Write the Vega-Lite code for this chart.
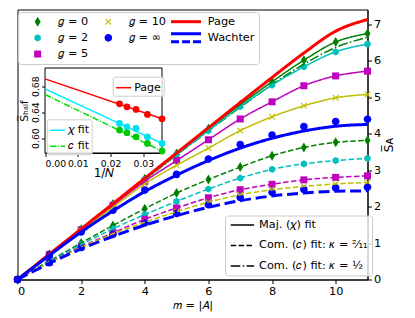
{
"$schema": "https://vega.github.io/schema/vega-lite/v6.json",
"autosize": {"type": "none"},
"padding": {"left": 17.5, "top": 9.5, "right": 47.5, "bottom": 38.5},
"width": 350,
"height": 270,
"config": {
  "font": "DejaVu Sans",
  "view": {"stroke": "black", "fill": "white", "strokeWidth": 1},
  "axis": {"grid": false, "domainColor": "black", "tickColor": "black", "labelColor": "black", "titleColor": "black", "labelFont": "DejaVu Sans", "titleFont": "DejaVu Sans", "titleFontWeight": "normal", "domainWidth": 1, "tickWidth": 1, "labelOverlap": false},
  "legend": {"labelFont": "DejaVu Sans", "labelColor": "black"}
},
"datasets": {
  "d": [
    {"s":"0","f":"maj","m":0,"S":0},{"s":"0","f":"maj","m":1,"S":0.69},{"s":"0","f":"maj","m":2,"S":1.38},{"s":"0","f":"maj","m":3,"S":2.07},{"s":"0","f":"maj","m":4,"S":2.76},{"s":"0","f":"maj","m":5,"S":3.45},{"s":"0","f":"maj","m":6,"S":4.13},{"s":"0","f":"maj","m":7,"S":4.79},{"s":"0","f":"maj","m":8,"S":5.42},{"s":"0","f":"maj","m":9,"S":6.01},{"s":"0","f":"maj","m":10,"S":6.51},{"s":"0","f":"maj","m":11,"S":6.74},
    {"s":"0","f":"k2","m":0,"S":0},{"s":"0","f":"k2","m":1,"S":0.51},{"s":"0","f":"k2","m":2,"S":1.0},{"s":"0","f":"k2","m":3,"S":1.48},{"s":"0","f":"k2","m":4,"S":1.94},{"s":"0","f":"k2","m":5,"S":2.37},{"s":"0","f":"k2","m":6,"S":2.74},{"s":"0","f":"k2","m":7,"S":3.08},{"s":"0","f":"k2","m":8,"S":3.39},{"s":"0","f":"k2","m":9,"S":3.62},{"s":"0","f":"k2","m":10,"S":3.76},{"s":"0","f":"k2","m":11,"S":3.81},
    {"s":"0","f":"k1","m":0,"S":0},{"s":"0","f":"k1","m":1,"S":0.69},{"s":"0","f":"k1","m":2,"S":1.37},{"s":"0","f":"k1","m":3,"S":2.05},{"s":"0","f":"k1","m":4,"S":2.73},{"s":"0","f":"k1","m":5,"S":3.41},{"s":"0","f":"k1","m":6,"S":4.07},{"s":"0","f":"k1","m":7,"S":4.72},{"s":"0","f":"k1","m":8,"S":5.34},{"s":"0","f":"k1","m":9,"S":5.9},{"s":"0","f":"k1","m":10,"S":6.36},{"s":"0","f":"k1","m":11,"S":6.64},
    {"s":"2","f":"maj","m":0,"S":0},{"s":"2","f":"maj","m":1,"S":0.69},{"s":"2","f":"maj","m":2,"S":1.38},{"s":"2","f":"maj","m":3,"S":2.06},{"s":"2","f":"maj","m":4,"S":2.74},{"s":"2","f":"maj","m":5,"S":3.42},{"s":"2","f":"maj","m":6,"S":4.08},{"s":"2","f":"maj","m":7,"S":4.74},{"s":"2","f":"maj","m":8,"S":5.33},{"s":"2","f":"maj","m":9,"S":5.83},{"s":"2","f":"maj","m":10,"S":6.24},{"s":"2","f":"maj","m":11,"S":6.45},
    {"s":"2","f":"k2","m":0,"S":0},{"s":"2","f":"k2","m":1,"S":0.49},{"s":"2","f":"k2","m":2,"S":0.96},{"s":"2","f":"k2","m":3,"S":1.39},{"s":"2","f":"k2","m":4,"S":1.78},{"s":"2","f":"k2","m":5,"S":2.14},{"s":"2","f":"k2","m":6,"S":2.48},{"s":"2","f":"k2","m":7,"S":2.78},{"s":"2","f":"k2","m":8,"S":3.02},{"s":"2","f":"k2","m":9,"S":3.17},{"s":"2","f":"k2","m":10,"S":3.26},{"s":"2","f":"k2","m":11,"S":3.32},
    {"s":"5","f":"maj","m":0,"S":0},{"s":"5","f":"maj","m":1,"S":0.69},{"s":"5","f":"maj","m":2,"S":1.36},{"s":"5","f":"maj","m":3,"S":2.03},{"s":"5","f":"maj","m":4,"S":2.69},{"s":"5","f":"maj","m":5,"S":3.26},{"s":"5","f":"maj","m":6,"S":3.83},{"s":"5","f":"maj","m":7,"S":4.4},{"s":"5","f":"maj","m":8,"S":4.87},{"s":"5","f":"maj","m":9,"S":5.31},{"s":"5","f":"maj","m":10,"S":5.58},{"s":"5","f":"maj","m":11,"S":5.71},
    {"s":"5","f":"k2","m":0,"S":0},{"s":"5","f":"k2","m":1,"S":0.47},{"s":"5","f":"k2","m":2,"S":0.9},{"s":"5","f":"k2","m":3,"S":1.28},{"s":"5","f":"k2","m":4,"S":1.65},{"s":"5","f":"k2","m":5,"S":1.96},{"s":"5","f":"k2","m":6,"S":2.24},{"s":"5","f":"k2","m":7,"S":2.46},{"s":"5","f":"k2","m":8,"S":2.61},{"s":"5","f":"k2","m":9,"S":2.73},{"s":"5","f":"k2","m":10,"S":2.8},{"s":"5","f":"k2","m":11,"S":2.84},
    {"s":"10","f":"maj","m":0,"S":0},{"s":"10","f":"maj","m":1,"S":0.68},{"s":"10","f":"maj","m":2,"S":1.34},{"s":"10","f":"maj","m":3,"S":1.98},{"s":"10","f":"maj","m":4,"S":2.62},{"s":"10","f":"maj","m":5,"S":3.13},{"s":"10","f":"maj","m":6,"S":3.6},{"s":"10","f":"maj","m":7,"S":4.08},{"s":"10","f":"maj","m":8,"S":4.46},{"s":"10","f":"maj","m":9,"S":4.76},{"s":"10","f":"maj","m":10,"S":4.98},{"s":"10","f":"maj","m":11,"S":5.07},
    {"s":"10","f":"k2","m":0,"S":0},{"s":"10","f":"k2","m":1,"S":0.46},{"s":"10","f":"k2","m":2,"S":0.88},{"s":"10","f":"k2","m":3,"S":1.25},{"s":"10","f":"k2","m":4,"S":1.57},{"s":"10","f":"k2","m":5,"S":1.86},{"s":"10","f":"k2","m":6,"S":2.12},{"s":"10","f":"k2","m":7,"S":2.32},{"s":"10","f":"k2","m":8,"S":2.46},{"s":"10","f":"k2","m":9,"S":2.55},{"s":"10","f":"k2","m":10,"S":2.62},{"s":"10","f":"k2","m":11,"S":2.66},
    {"s":"∞","f":"maj","m":0,"S":0},{"s":"∞","f":"maj","m":1,"S":0.66},{"s":"∞","f":"maj","m":2,"S":1.3},{"s":"∞","f":"maj","m":3,"S":1.9},{"s":"∞","f":"maj","m":4,"S":2.45},{"s":"∞","f":"maj","m":5,"S":2.88},{"s":"∞","f":"maj","m":6,"S":3.3},{"s":"∞","f":"maj","m":7,"S":3.7},{"s":"∞","f":"maj","m":8,"S":3.96},{"s":"∞","f":"maj","m":9,"S":4.19},{"s":"∞","f":"maj","m":10,"S":4.33},{"s":"∞","f":"maj","m":11,"S":4.39},
    {"s":"∞","f":"k2","m":0,"S":0},{"s":"∞","f":"k2","m":1,"S":0.46},{"s":"∞","f":"k2","m":2,"S":0.88},{"s":"∞","f":"k2","m":3,"S":1.24},{"s":"∞","f":"k2","m":4,"S":1.55},{"s":"∞","f":"k2","m":5,"S":1.81},{"s":"∞","f":"k2","m":6,"S":2.05},{"s":"∞","f":"k2","m":7,"S":2.25},{"s":"∞","f":"k2","m":8,"S":2.39},{"s":"∞","f":"k2","m":9,"S":2.47},{"s":"∞","f":"k2","m":10,"S":2.51},{"s":"∞","f":"k2","m":11,"S":2.53},
    {"s":"Page","f":"maj","m":0,"S":0},{"s":"Page","f":"maj","m":1,"S":0.693},{"s":"Page","f":"maj","m":2,"S":1.386},{"s":"Page","f":"maj","m":3,"S":2.079},{"s":"Page","f":"maj","m":4,"S":2.773},{"s":"Page","f":"maj","m":5,"S":3.466},{"s":"Page","f":"maj","m":6,"S":4.159},{"s":"Page","f":"maj","m":7,"S":4.85},{"s":"Page","f":"maj","m":8,"S":5.537},{"s":"Page","f":"maj","m":9,"S":6.207},{"s":"Page","f":"maj","m":10,"S":6.806},{"s":"Page","f":"maj","m":11,"S":7.125},
    {"s":"Wachter","f":"maj","m":0,"S":0},{"s":"Wachter","f":"maj","m":1,"S":0.66},{"s":"Wachter","f":"maj","m":2,"S":1.3},{"s":"Wachter","f":"maj","m":3,"S":1.88},{"s":"Wachter","f":"maj","m":4,"S":2.41},{"s":"Wachter","f":"maj","m":5,"S":2.86},{"s":"Wachter","f":"maj","m":6,"S":3.26},{"s":"Wachter","f":"maj","m":7,"S":3.6},{"s":"Wachter","f":"maj","m":8,"S":3.87},{"s":"Wachter","f":"maj","m":9,"S":4.07},{"s":"Wachter","f":"maj","m":10,"S":4.2},{"s":"Wachter","f":"maj","m":11,"S":4.25},
    {"s":"Wachter","f":"thick","m":0,"S":0},{"s":"Wachter","f":"thick","m":1,"S":0.44},{"s":"Wachter","f":"thick","m":2,"S":0.84},{"s":"Wachter","f":"thick","m":3,"S":1.18},{"s":"Wachter","f":"thick","m":4,"S":1.49},{"s":"Wachter","f":"thick","m":5,"S":1.75},{"s":"Wachter","f":"thick","m":6,"S":1.98},{"s":"Wachter","f":"thick","m":7,"S":2.16},{"s":"Wachter","f":"thick","m":8,"S":2.29},{"s":"Wachter","f":"thick","m":9,"S":2.37},{"s":"Wachter","f":"thick","m":10,"S":2.42},{"s":"Wachter","f":"thick","m":11,"S":2.43}
  ],
  "ins": [
    {"s":"Page","k":"pt","x":0.02273,"y":0.6528},{"s":"Page","k":"pt","x":0.025,"y":0.6482},{"s":"Page","k":"pt","x":0.02778,"y":0.6442},{"s":"Page","k":"pt","x":0.03125,"y":0.6365},{"s":"Page","k":"pt","x":0.03571,"y":0.6297},
    {"s":"Page","k":"ln","x":0,"y":0.6912},{"s":"Page","k":"ln","x":0.03571,"y":0.6297},
    {"s":"chi","k":"pt","x":0.02273,"y":0.6226},{"s":"chi","k":"pt","x":0.025,"y":0.6174},{"s":"chi","k":"pt","x":0.02778,"y":0.6149},{"s":"chi","k":"pt","x":0.03125,"y":0.602},{"s":"chi","k":"pt","x":0.03571,"y":0.5918},
    {"s":"chi","k":"ln","x":0,"y":0.6758},{"s":"chi","k":"ln","x":0.03571,"y":0.5918},
    {"s":"c","k":"pt","x":0.02273,"y":0.6123},{"s":"c","k":"pt","x":0.025,"y":0.6082},{"s":"c","k":"pt","x":0.02778,"y":0.602},{"s":"c","k":"pt","x":0.03125,"y":0.5918},{"s":"c","k":"pt","x":0.03571,"y":0.58},
    {"s":"c","k":"ln","x":0,"y":0.6672},{"s":"c","k":"ln","x":0.03571,"y":0.58}
  ]
},
"layer": [
  {
    "layer": [
      {
        "data": {"name": "d"},
        "transform": [{"filter": "(datum.f === 'maj' || datum.f === 'k2') && datum.s !== 'Page' && datum.s !== 'Wachter'"}],
        "mark": {"type": "point", "filled": true, "size": 64, "opacity": 1},
        "encoding": {
          "x": {"field": "m", "type": "quantitative", "scale": {"domain": [0, 11], "nice": false},
                "axis": {"values": [0, 2, 4, 6, 8, 10], "tickCount": 6, "labelOverlap": false, "title": "𝑚 = |𝐴|", "labelFontSize": 11.3, "titleFontSize": 11.3, "tickSize": 4, "labelPadding": 2, "titlePadding": 3}},
          "y": {"field": "S", "type": "quantitative", "scale": {"domain": [0, 7.4], "nice": false},
                "axis": {"orient": "right", "values": [0, 1, 2, 3, 4, 5, 6, 7], "tickCount": 8, "labelOverlap": false, "title": "S̅ᴀ", "titleAngle": 270, "titleBaseline": "top", "labelFontSize": 11.3, "titleFontSize": 12, "tickSize": 4, "labelPadding": 2, "titlePadding": 3}},
          "color": {"field": "s", "type": "nominal",
                    "scale": {"domain": ["0", "2", "5", "10", "∞", "_", "Page", "Wachter"], "range": ["#008000", "#00bfbf", "#bf00bf", "#bfbf00", "#0000ff", "transparent", "#ff0000", "#0000ff"]},
                    "legend": {"orient": "none", "legendX": 0.5, "legendY": 2.5, "columns": 3, "gridAlign": "each", "title": null, "symbolSize": 64, "symbolStrokeWidth": 0, "symbolOffset": 10, "labelOffset": 15, "columnPadding": 3.7, "rowPadding": 4.2, "padding": 4, "labelFontSize": 11.3,
                               "labelExpr": "datum.value === '_' ? '' : datum.value === 'Page' || datum.value === 'Wachter' ? datum.value : '𝑔 = ' + datum.value",
                               "strokeColor": "#cccccc", "fillColor": "rgba(255,255,255,0.8)", "cornerRadius": 3}},
          "shape": {"field": "s", "type": "nominal",
                    "scale": {"domain": ["0", "2", "5", "10", "∞", "_", "Page", "Wachter"], "range": [
                      "M0,-1.25L0.75,0L0,1.25L-0.75,0Z",
                      "M0,-0.9L0.78,-0.45L0.78,0.45L0,0.9L-0.78,0.45L-0.78,-0.45Z",
                      "M-0.875,-0.875H0.875V0.875H-0.875Z",
                      "M-0.8,-0.6L-0.6,-0.8L0,-0.2L0.6,-0.8L0.8,-0.6L0.2,0L0.8,0.6L0.6,0.8L0,0.2L-0.6,0.8L-0.8,0.6L-0.2,0Z",
                      "M-0.95,0A0.95,0.95,0,1,1,0.95,0A0.95,0.95,0,1,1,-0.95,0Z",
                      "M0,0",
                      "M-4,-0.375H3.5V0.375H-4Z",
                      "M-4,-1.375H3.5V-0.625H-4ZM-4,0.575H-2V1.325H-4ZM-1.25,0.575H0.75V1.325H-1.25ZM1.5,0.575H3.5V1.325H1.5Z"]},
                    "legend": {"orient": "none", "legendX": 0.5, "legendY": 2.5, "columns": 3, "gridAlign": "each", "title": null, "symbolSize": 64, "symbolStrokeWidth": 0, "symbolOffset": 10, "labelOffset": 15, "columnPadding": 3.7, "rowPadding": 4.2, "padding": 4, "labelFontSize": 11.3,
                               "labelExpr": "datum.value === '_' ? '' : datum.value === 'Page' || datum.value === 'Wachter' ? datum.value : '𝑔 = ' + datum.value",
                               "strokeColor": "#cccccc", "fillColor": "rgba(255,255,255,0.8)", "cornerRadius": 3}}
        }
      },
      {
        "data": {"name": "d"},
        "transform": [{"filter": "datum.s !== 'Page' && datum.s !== 'Wachter' && datum.s !== '∞'"}],
        "mark": {"type": "line", "interpolate": "monotone"},
        "encoding": {
          "x": {"field": "m", "type": "quantitative"},
          "y": {"field": "S", "type": "quantitative"},
          "strokeWidth": {"value": 1.5},
          "color": {"field": "s", "type": "nominal"},
          "strokeDash": {"field": "f", "type": "nominal",
                         "scale": {"domain": ["maj", "k2", "k1", "thick"], "range": [[1, 0], [5.5, 2.4], [9.6, 2.4, 1.5, 2.4], [11, 4.8]]},
                         "legend": {"orient": "none", "legendX": 207.5, "legendY": 206, "title": null, "values": ["maj", "k2", "k1"],
                                    "labelExpr": "datum.value === 'maj' ? 'Maj. (𝜒) fit' : datum.value === 'k2' ? 'Com. (𝑐) fit: 𝜅 = ²⁄₁₁' : 'Com. (𝑐) fit: 𝜅 = ½'",
                                    "symbolType": "M-2.925,0H2.925", "symbolSize": 64, "symbolOffset": 8, "symbolStrokeColor": "black", "symbolStrokeWidth": 1.5, "labelOffset": 11, "rowPadding": 8.5, "padding": 3.75, "labelFontSize": 11.3,
                                    "strokeColor": "#cccccc", "fillColor": "rgba(255,255,255,0.8)", "cornerRadius": 3}}
        }
      },
      {
        "data": {"name": "d"},
        "transform": [{"filter": "datum.s === 'Page' || datum.s === 'Wachter'"}],
        "mark": {"type": "line", "interpolate": "monotone"},
        "encoding": {
          "x": {"field": "m", "type": "quantitative"},
          "y": {"field": "S", "type": "quantitative"},
          "strokeWidth": {"value": 3},
          "color": {"field": "s", "type": "nominal"},
          "strokeDash": {"field": "f", "type": "nominal"}
        }
      }
    ]
  },
  {
    "layer": [
      {
        "data": {"values": [{}]},
        "mark": {"type": "rect", "fill": "white", "stroke": "black", "strokeWidth": 1},
        "encoding": {
          "x": {"datum": 0, "type": "quantitative"},
          "x2": {"datum": 0.0357},
          "y": {"datum": 0.577, "type": "quantitative"},
          "y2": {"datum": 0.708}
        }
      },
      {
        "data": {"name": "ins"},
        "transform": [{"filter": "datum.k === 'ln' && datum.s === 'Page'"}],
        "mark": {"type": "line"},
        "encoding": {
          "x": {"field": "x", "type": "quantitative", "scale": {"domain": [0, 0.0357], "range": [27.5, 144.5], "nice": false, "zero": false},
                "axis": {"orient": "bottom", "offset": -126.5, "values": [0, 0.01, 0.02, 0.03], "format": ".2f", "title": "1/𝑁", "labelFontSize": 9.3, "titleFontSize": 12, "tickSize": 3.5, "labelPadding": 3, "titlePadding": -1}},
          "y": {"field": "y", "type": "quantitative", "scale": {"domain": [0.577, 0.708], "range": [143.5, 58.5], "nice": false, "zero": false},
                "axis": {"orient": "left", "offset": -27.5, "values": [0.6, 0.64, 0.68], "format": ".2f", "title": "S̅ₕₐₗf", "labelAngle": 270, "labelAlign": "center", "labelBaseline": "bottom", "labelFontSize": 9.3, "titleFontSize": 11, "tickSize": 3.5, "labelPadding": 1.5, "titlePadding": 2}},
          "strokeWidth": {"value": 1.5},
          "color": {"field": "s", "type": "nominal", "scale": {"domain": ["Page"], "range": ["#ff0000"]},
                    "legend": {"orient": "none", "legendX": 95.2, "legendY": 67.2, "title": null, "symbolType": "stroke", "symbolSize": 225, "symbolStrokeWidth": 1.5, "labelFontSize": 11, "labelOffset": 2, "padding": 2.5,
                               "strokeColor": "#cccccc", "fillColor": "rgba(255,255,255,0.8)", "cornerRadius": 2}}
        }
      },
      {
        "data": {"name": "ins"},
        "transform": [{"filter": "datum.k === 'ln' && datum.s !== 'Page'"}],
        "mark": {"type": "line"},
        "encoding": {
          "x": {"field": "x", "type": "quantitative"},
          "y": {"field": "y", "type": "quantitative"},
          "strokeWidth": {"value": 1.5},
          "stroke": {"field": "s", "type": "nominal", "scale": {"domain": ["chi", "c"], "range": ["#00f0ff", "#00e000"]},
                     "legend": {"orient": "none", "legendX": 29.2, "legendY": 109.8, "title": null, "symbolType": "stroke", "symbolSize": 225, "symbolStrokeWidth": 1.5, "labelFontSize": 11, "labelOffset": 2, "padding": 2.5,
                                "labelExpr": "datum.value === 'chi' ? '𝜒 fit' : '𝑐 fit'", "strokeColor": "#cccccc", "fillColor": "rgba(255,255,255,0.8)", "cornerRadius": 2}},
          "strokeDash": {"field": "s", "type": "nominal", "scale": {"domain": ["chi", "c"], "range": [[1, 0], [6.4, 1.6, 1, 1.6]]},
                     "legend": {"orient": "none", "legendX": 29.2, "legendY": 109.8, "title": null, "symbolType": "stroke", "symbolSize": 225, "symbolStrokeWidth": 1.5, "labelFontSize": 11, "labelOffset": 2, "padding": 2.5,
                                "labelExpr": "datum.value === 'chi' ? '𝜒 fit' : '𝑐 fit'", "strokeColor": "#cccccc", "fillColor": "rgba(255,255,255,0.8)", "cornerRadius": 2}}
        }
      },
      {
        "data": {"name": "ins"},
        "transform": [{"filter": "datum.k === 'pt'"}],
        "mark": {"type": "point", "filled": true, "size": 45, "opacity": 1},
        "encoding": {
          "x": {"field": "x", "type": "quantitative"},
          "y": {"field": "y", "type": "quantitative"},
          "fill": {"field": "s", "type": "nominal", "scale": {"domain": ["Page", "chi", "c"], "range": ["#ff0000", "#00e0f0", "#00c800"]}, "legend": null}
        }
      }
    ]
  }
],
"resolve": {
  "scale": {"x": "independent", "y": "independent", "color": "independent", "shape": "independent", "strokeDash": "independent", "stroke": "independent", "fill": "independent"},
  "axis": {"x": "independent", "y": "independent"},
  "legend": {"color": "independent", "shape": "independent", "strokeDash": "independent", "stroke": "independent"}
}
}
